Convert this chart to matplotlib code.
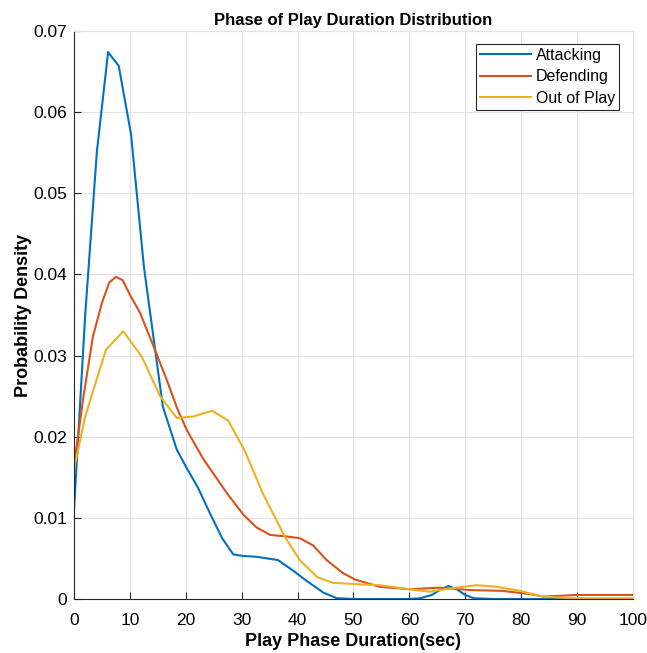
import matplotlib
matplotlib.use("Agg")
import matplotlib.pyplot as plt
import numpy as np

plt.rcParams['font.family'] = ['Liberation Sans', 'DejaVu Sans']

# Attacking
att_x = [0, 2, 4.1, 6.1, 8.0, 10.2, 12.5, 15.9, 18.4, 20.2, 22.2, 24.3, 26.5, 28.5,
         30.3, 32.7, 36.5, 39.2, 41.7, 44.6, 47.0, 50, 55, 60, 62, 64, 65.5, 67, 68.5,
         70, 71.5, 75, 80, 90, 100]
att_y = [0.011, 0.035, 0.0552, 0.0674, 0.0657, 0.0573, 0.041, 0.0237, 0.0184, 0.0161,
         0.0137, 0.0106, 0.0075, 0.0055, 0.0053, 0.0052, 0.0048, 0.0035, 0.0022, 0.0008,
         0.0001, 0.0, 0.0, 0.0, 0.0001, 0.0005, 0.0011, 0.0016, 0.0012, 0.0005, 0.0001,
         0.0, 0.0, 0.0, 0.0]

# Defending
def_x = [0, 1.7, 3.4, 5.0, 6.3, 7.5, 8.7, 10.0, 11.8, 14.2, 16.6, 18.4, 20.2, 23.1,
         27.3, 30.3, 32.7, 35.1, 38.1, 40.4, 42.8, 45.2, 48.1, 50.3, 54.7, 60.1, 65.5,
         70.8, 76.7, 81.6, 84, 90, 100]
def_y = [0.0165, 0.025, 0.0324, 0.0365, 0.039, 0.0397, 0.0393, 0.0375, 0.0353, 0.0312,
         0.0270, 0.0236, 0.0208, 0.0173, 0.0131, 0.0104, 0.0088, 0.0079, 0.0077, 0.0075,
         0.0066, 0.0048, 0.0032, 0.0024, 0.0015, 0.0012, 0.0014, 0.0011, 0.0010, 0.0006,
         0.0003, 0.0005, 0.0005]

# Out of Play
oop_x = [0, 2.0, 5.7, 8.8, 12.1, 15.4, 18.4, 21.4, 24.7, 27.6, 30.6, 33.8, 37.7, 40.4,
         43.5, 46.3, 51.2, 54.7, 60.1, 63.7, 67.3, 72.1, 75.7, 79.8, 83.9, 88.7, 100]
oop_y = [0.016, 0.0225, 0.0307, 0.033, 0.0299, 0.025, 0.0223, 0.0225, 0.0232, 0.022,
         0.0182, 0.013, 0.0077, 0.0048, 0.0027, 0.0020, 0.0018, 0.0017, 0.0012, 0.0009,
         0.0013, 0.0017, 0.0015, 0.0010, 0.0003, 0.0001, 0.0001]

fig = plt.figure(figsize=(6.47, 6.53), dpi=100)
ax = fig.add_axes([0.1144, 0.0827, 0.8636, 0.8698])

ax.plot(att_x, att_y, color='#0072BD', lw=1.5, label='Attacking')
ax.plot(def_x, def_y, color='#D95319', lw=1.5, label='Defending')
ax.plot(oop_x, oop_y, color='#EDB120', lw=1.5, label='Out of Play')

ax.set_xlim(0, 100)
ax.set_ylim(0, 0.07)
ax.set_xticks(np.arange(0, 101, 10))
ax.set_yticks(np.arange(0, 0.071, 0.01))
ax.set_yticklabels(['0', '0.01', '0.02', '0.03', '0.04', '0.05', '0.06', '0.07'])
ax.grid(True, color='#e3e3e3', lw=0.8)
ax.set_axisbelow(True)
ax.tick_params(direction='in', labelsize=12.5, length=5, color='#262626')
ax.tick_params(axis='x', pad=10)
ax.tick_params(axis='y', pad=5)
for s in ['top', 'right']:
    ax.spines[s].set_color('#e3e3e3')
for s in ['left', 'bottom']:
    ax.spines[s].set_color('#262626')

ax.set_title('Phase of Play Duration Distribution', fontsize=12, fontweight='bold', pad=4)
ax.set_xlabel('Play Phase Duration(sec)', fontsize=13, fontweight='bold', labelpad=4)
ax.set_ylabel('Probability Density', fontsize=13, fontweight='bold', labelpad=1)

leg = ax.legend(loc='upper right', fontsize=11.5, fancybox=False, framealpha=1,
                edgecolor='#262626', handlelength=3.2, borderpad=0.25, labelspacing=0.4,
                handletextpad=0.3, borderaxespad=0, bbox_to_anchor=(0.975, 0.977))
leg.get_frame().set_linewidth(0.8)

fig.savefig('out.png', dpi=100)
